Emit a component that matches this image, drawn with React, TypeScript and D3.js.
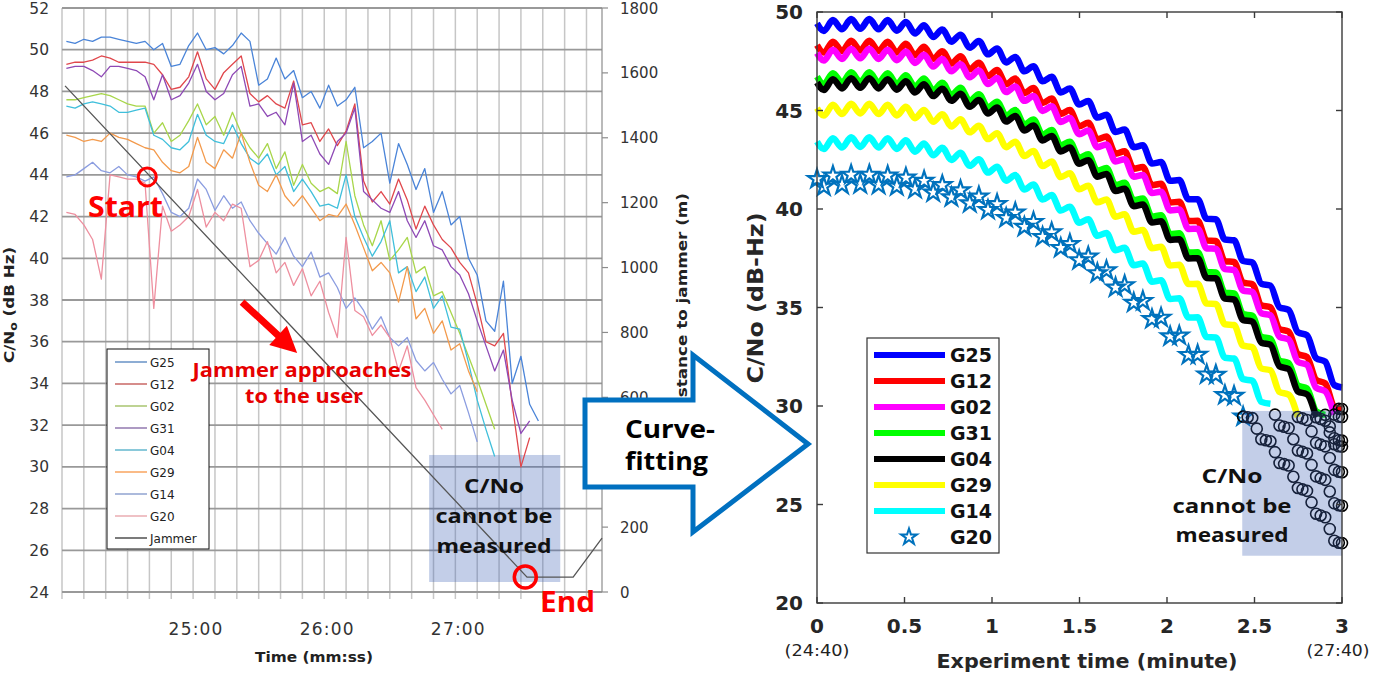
import React from "react";
import * as d3 from "d3";

// measured C/No (dB-Hz), one sample every 4 s starting at 24:00:02
const secs = [2, 6, 10, 14, 18, 22, 26, 30, 34, 38, 42, 46, 50, 54, 58, 62, 66, 70, 74, 78, 82, 86, 90, 94, 98, 102, 106, 110, 114, 118, 122, 126, 130, 134, 138, 142, 146, 150, 154, 158, 162, 166, 170, 174, 178, 182, 186, 190, 194, 198, 202, 206, 210, 214, 218];

const mG25 = [50.4, 50.3, 50.5, 50.4, 50.6, 50.6, 50.5, 50.4, 50.3, 50.4, 50.0, 50.3, 49.2, 49.3, 50.2, 50.8, 50.0, 50.1, 49.8, 50.2, 50.8, 50.4, 48.3, 48.6, 49.6, 48.6, 49.0, 47.7, 48.0, 47.2, 48.3, 47.3, 47.6, 48.2, 45.3, 45.6, 46.0, 43.6, 45.5, 44.5, 43.3, 44.3, 42.2, 43.2, 41.6, 42.0, 40.0, 39.2, 37.0, 36.5, 38.9, 34.0, 35.3, 33.0, 32.2];
const mG12 = [49.3, 49.4, 49.4, 49.5, 49.7, 49.6, 49.4, 49.4, 49.4, 49.4, 49.3, 48.8, 48.1, 48.2, 48.7, 49.9, 48.6, 48.1, 48.9, 49.3, 49.7, 47.9, 47.5, 47.8, 47.4, 47.2, 48.5, 46.4, 46.5, 45.6, 46.2, 45.4, 46.1, 47.4, 43.7, 42.7, 43.2, 42.6, 43.8, 42.8, 41.4, 42.5, 41.6, 40.9, 40.5, 39.8, 39.3, 37.8, 36.0, 35.8, 36.4, 33.0, 30.0, 31.4];
const mG02 = [47.6, 47.6, 47.7, 47.8, 47.9, 47.8, 47.6, 47.4, 47.3, 47.3, 46.0, 46.5, 45.6, 45.9, 46.6, 47.4, 46.4, 46.8, 45.9, 47.0, 46.0, 45.3, 44.8, 45.5, 44.3, 45.1, 43.5, 44.5, 43.6, 43.2, 43.4, 43.1, 45.6, 43.0, 41.6, 40.6, 41.8, 39.9, 40.4, 41.0, 39.3, 39.6, 38.2, 38.4, 37.4, 36.4, 35.3, 34.2, 33.0, 31.8];
const mG31 = [49.1, 49.2, 49.2, 49.0, 48.7, 49.2, 49.2, 49.1, 49.0, 48.7, 47.6, 48.8, 47.6, 47.8, 48.4, 49.3, 48.0, 47.6, 47.9, 48.8, 49.2, 47.3, 47.4, 46.8, 47.0, 46.4, 48.4, 45.6, 45.9, 45.0, 44.5, 45.6, 46.0, 47.2, 43.2, 42.8, 42.4, 42.2, 43.2, 41.8, 41.0, 41.8, 40.6, 40.4, 39.6, 39.2, 38.3, 37.0, 35.8, 34.6, 35.6, 33.2, 31.6, 32.2];
const mG04 = [47.3, 47.2, 47.4, 47.5, 47.4, 47.3, 47.0, 47.0, 47.1, 47.2, 45.9, 45.7, 45.3, 45.2, 45.6, 46.9, 45.9, 45.6, 45.5, 46.4, 45.5, 44.8, 44.5, 45.0, 44.0, 44.4, 43.2, 43.8, 43.2, 42.5, 42.6, 42.4, 44.0, 42.0, 41.0, 40.1, 40.8, 41.8, 39.3, 39.6, 38.4, 39.1, 37.6, 38.2, 36.7, 36.6, 35.0, 33.2, 31.8, 30.5];
const mG29 = [45.9, 45.8, 45.6, 45.7, 45.6, 46.0, 45.8, 45.7, 45.5, 45.3, 45.2, 44.6, 44.2, 44.1, 44.4, 45.8, 44.6, 44.3, 45.2, 44.8, 46.0, 44.6, 43.5, 43.2, 44.0, 43.0, 42.5, 43.0, 42.4, 41.8, 42.1, 42.0, 42.6, 41.6, 40.5, 39.4, 39.8, 39.3, 37.9, 39.6, 37.1, 37.6, 36.4, 37.0, 35.6, 35.9, 34.6, 33.6];
const mG14 = [43.9, 44.0, 44.3, 44.6, 44.2, 44.1, 44.4, 44.0, 43.9, 43.7, 43.9, 43.1, 42.2, 42.0, 42.4, 43.8, 43.3, 42.3, 43.0, 42.4, 42.7, 41.8, 41.2, 40.7, 40.2, 41.0, 40.1, 39.6, 40.3, 39.1, 39.3, 38.6, 37.6, 38.1, 37.5, 36.6, 37.2, 36.2, 35.8, 36.2, 35.1, 34.6, 35.0, 34.2, 33.5, 33.9, 32.6, 31.2];
const mG20 = [42.2, 42.1, 41.6, 40.9, 39.0, 44.0, 43.9, 43.8, 43.8, 43.6, 37.6, 42.5, 41.3, 41.6, 42.0, 43.3, 41.5, 42.2, 41.8, 42.6, 42.4, 39.6, 39.9, 40.8, 39.3, 39.8, 38.7, 39.5, 38.2, 38.9, 37.4, 36.2, 41.0, 37.5, 37.2, 36.3, 36.8, 36.2, 34.6, 35.8, 33.8, 33.2, 32.5, 31.8];

// jammer distance (m)
const jamSecs = [1.4, 212.8, 233.9, 247.1];
const jamDist = [1560, 46, 46, 166];

const leftNames = ["G25", "G12", "G02", "G31", "G04", "G29", "G14", "G20"];
const leftSeries = [mG25, mG12, mG02, mG31, mG04, mG29, mG14, mG20];
const leftColors = ["#4a84d8", "#e0474c", "#a8d64a", "#8e49b5", "#3fbfdb", "#f39a4c", "#8b9de0", "#ee8f9f"];
const legendColors = ["#4f81bd", "#c0504d", "#9bbb59", "#8064a2", "#4bacc6", "#f79646", "#7f95c9", "#e6a0a6"];
const timeTicks = [60, 120, 180];
const timeLabels = ["25:00", "26:00", "27:00"];
const distTicks = [0, 200, 600, 800, 1000, 1200, 1400, 1600, 1800]; // 400 sits under the arrow

// curve fitted C/No, read at the ripple peaks and troughs (minutes)
const fitTimes = [0, 0.039, 0.091, 0.143, 0.195, 0.247, 0.299, 0.352, 0.404, 0.456, 0.508, 0.56, 0.612, 0.664, 0.716, 0.768, 0.82, 0.873, 0.925, 0.977, 1.029, 1.081, 1.133, 1.185, 1.237, 1.289, 1.341, 1.393, 1.445, 1.498, 1.55, 1.602, 1.654, 1.706, 1.758, 1.81, 1.862, 1.914, 1.966, 2.018, 2.07, 2.123, 2.175, 2.227, 2.279, 2.331, 2.383, 2.435, 2.487, 2.539, 2.591, 2.643, 2.695, 2.748, 2.8, 2.852, 2.904, 2.956, 3.0];

const fG25 = [49.42, 49.04, 49.59, 49.12, 49.64, 49.15, 49.64, 49.12, 49.59, 49.05, 49.49, 48.91, 49.33, 48.73, 49.11, 48.49, 48.85, 48.19, 48.53, 47.85, 48.15, 47.44, 47.72, 46.99, 47.24, 46.48, 46.71, 45.92, 46.12, 45.3, 45.48, 44.64, 44.78, 43.91, 44.03, 43.14, 43.23, 42.31, 42.38, 41.43, 41.47, 40.49, 40.5, 39.5, 39.48, 38.45, 38.41, 37.36, 37.29, 36.21, 36.11, 35.01, 34.88, 33.74, 33.59, 32.43, 32.25, 31.06, 30.94];
const fG12 = [48.32, 47.94, 48.49, 48.02, 48.54, 48.05, 48.54, 48.02, 48.49, 47.95, 48.39, 47.81, 48.23, 47.63, 48.01, 47.39, 47.75, 47.09, 47.43, 46.75, 47.05, 46.34, 46.62, 45.89, 46.14, 45.38, 45.61, 44.82, 45.02, 44.2, 44.38, 43.54, 43.68, 42.81, 42.93, 42.04, 42.13, 41.21, 41.28, 40.33, 40.37, 39.39, 39.4, 38.4, 38.38, 37.35, 37.31, 36.26, 36.19, 35.11, 35.01, 33.91, 33.78, 32.64, 32.49, 31.33, 31.15, 29.96, 29.84];
const fG02 = [47.92, 47.54, 48.09, 47.62, 48.14, 47.65, 48.14, 47.62, 48.09, 47.55, 47.99, 47.41, 47.83, 47.23, 47.61, 46.99, 47.35, 46.69, 47.03, 46.35, 46.65, 45.94, 46.22, 45.49, 45.74, 44.98, 45.21, 44.42, 44.62, 43.8, 43.98, 43.14, 43.28, 42.41, 42.53, 41.64, 41.73, 40.81, 40.88, 39.93, 39.97, 38.99, 39.0, 38.0, 37.98, 36.95, 36.91, 35.86, 35.79, 34.71, 34.61, 33.51, 33.38, 32.24, 32.09, 30.93, 30.75, 29.56];
const fG31 = [46.72, 46.34, 46.89, 46.42, 46.94, 46.45, 46.94, 46.42, 46.89, 46.35, 46.79, 46.21, 46.63, 46.03, 46.41, 45.79, 46.15, 45.49, 45.83, 45.15, 45.45, 44.74, 45.02, 44.29, 44.54, 43.78, 44.01, 43.22, 43.42, 42.6, 42.78, 41.94, 42.08, 41.21, 41.33, 40.44, 40.53, 39.61, 39.68, 38.73, 38.77, 37.79, 37.8, 36.8, 36.78, 35.75, 35.71, 34.66, 34.59, 33.51, 33.41, 32.31, 32.18, 31.04, 30.89, 29.73, 29.55];
const fG04 = [46.42, 46.04, 46.59, 46.12, 46.64, 46.15, 46.64, 46.12, 46.59, 46.05, 46.49, 45.91, 46.33, 45.73, 46.11, 45.49, 45.85, 45.19, 45.53, 44.85, 45.15, 44.44, 44.72, 43.99, 44.24, 43.48, 43.71, 42.92, 43.12, 42.3, 42.48, 41.64, 41.78, 40.91, 41.03, 40.14, 40.23, 39.31, 39.38, 38.43, 38.47, 37.49, 37.5, 36.5, 36.48, 35.45, 35.41, 34.36, 34.29, 33.21, 33.11, 32.01, 31.88, 30.74, 30.59, 29.43];
const fG29 = [45.12, 44.74, 45.29, 44.82, 45.34, 44.85, 45.34, 44.82, 45.29, 44.75, 45.19, 44.61, 45.03, 44.43, 44.81, 44.19, 44.55, 43.89, 44.23, 43.55, 43.85, 43.14, 43.42, 42.69, 42.94, 42.18, 42.41, 41.62, 41.82, 41.0, 41.18, 40.34, 40.48, 39.61, 39.73, 38.84, 38.93, 38.01, 38.08, 37.13, 37.17, 36.19, 36.2, 35.2, 35.18, 34.15, 34.11, 33.06, 32.99, 31.91, 31.81, 30.71, 30.58, 29.44];
const fG14 = [43.42, 43.04, 43.59, 43.12, 43.64, 43.15, 43.64, 43.12, 43.59, 43.05, 43.49, 42.91, 43.33, 42.73, 43.11, 42.49, 42.85, 42.19, 42.53, 41.85, 42.15, 41.44, 41.72, 40.99, 41.24, 40.48, 40.71, 39.92, 40.12, 39.3, 39.48, 38.64, 38.78, 37.91, 38.03, 37.14, 37.23, 36.31, 36.38, 35.43, 35.47, 34.49, 34.5, 33.5, 33.48, 32.45, 32.41, 31.36, 31.29, 30.21, 30.11];
const fG20 = [41.52, 41.14, 41.69, 41.22, 41.74, 41.25, 41.74, 41.22, 41.69, 41.15, 41.59, 41.01, 41.43, 40.83, 41.21, 40.59, 40.95, 40.29, 40.63, 39.95, 40.25, 39.54, 39.82, 39.09, 39.34, 38.58, 38.81, 38.02, 38.22, 37.4, 37.58, 36.74, 36.88, 36.01, 36.13, 35.24, 35.33, 34.41, 34.48, 33.53, 33.57, 32.59, 32.6, 31.6, 31.58, 30.55, 30.51, 29.46];

// extrapolated values below the tracking threshold (circles)
const circTimes = [2.435, 2.461, 2.487, 2.513, 2.539, 2.565, 2.591, 2.617, 2.643, 2.669, 2.695, 2.722, 2.748, 2.774, 2.8, 2.826, 2.852, 2.878, 2.904, 2.93, 2.956, 2.982, 3.0];
const cG20 = [29.46, 29.43, 29.39, 28.85, 28.31, 28.26, 28.21, 27.66, 27.11, 27.05, 26.98, 26.41, 25.84, 25.77, 25.69, 25.11, 24.53, 24.44, 24.35, 23.76, 23.16, 23.06, 23.04];
const cG14 = [29.56, 29.01, 28.95, 28.88, 28.31, 27.74, 27.67, 27.59, 27.01, 26.43, 26.34, 26.25, 25.66, 25.06, 24.96, 24.94];
const cG29 = [29.44, 29.37, 29.29, 28.71, 28.13, 28.04, 27.95, 27.36, 26.76, 26.66, 26.64];
const cG04 = [29.43, 29.34, 29.25, 28.66, 28.06, 27.96, 27.94];
const cG31 = [29.55, 28.96, 28.36, 28.26, 28.24];
const cG02 = [29.56, 29.46, 29.44];
const cG12 = [29.86, 29.84];

const fitNames = ["G25", "G12", "G02", "G31", "G04", "G29", "G14"];
const fitSeries = [fG25, fG12, fG02, fG31, fG04, fG29, fG14];
const fitColors = ["#0000ff", "#ff0000", "#ff00ff", "#00ff00", "#000000", "#ffff00", "#00ffff"];
const circSeries = [cG20, cG14, cG29, cG04, cG31, cG02, cG12];
const starColor = "#0072bd";

const AX = "DejaVu Sans";
const NOTE = "Open Sans";

export default function App() {
  // left panel scales
  const lx = d3.scaleLinear().domain([0, 247.1]).range([62, 602]);
  const ly = d3.scaleLinear().domain([24, 52]).range([592, 8]);
  const ld = d3.scaleLinear().domain([0, 1800]).range([592, 8]);
  // right panel scales
  const rx = d3.scaleLinear().domain([0, 3]).range([817, 1342]);
  const ry = d3.scaleLinear().domain([20, 50]).range([603, 12]);

  const lineL = d3.line<[number, number]>().x(d => lx(d[0])).y(d => ly(d[1]));
  const lineJ = d3.line<[number, number]>().x(d => lx(d[0])).y(d => ld(d[1]));
  const lineR = d3
    .line<[number, number]>()
    .x(d => rx(d[0]))
    .y(d => ry(d[1]))
    .curve(d3.curveMonotoneX);
  const star = d3.symbol(d3.symbolStar).size(105)();
  const starLegend = d3.symbol(d3.symbolStar).size(80)();

  // red arrow (jammer approaching)
  const a0: [number, number] = [lx(82.4), ly(37.9)];
  const a1: [number, number] = [lx(107.6), ly(35.46)];
  const len = Math.hypot(a1[0] - a0[0], a1[1] - a0[1]);
  const ux = (a1[0] - a0[0]) / len, uy = (a1[1] - a0[1]) / len;
  const nx = -uy, ny = ux;
  const bx = a1[0] - 26 * ux, by = a1[1] - 26 * uy;
  const redArrow = [
    [a0[0] + 3.5 * nx, a0[1] + 3.5 * ny],
    [bx + 3.5 * nx, by + 3.5 * ny],
    [bx + 13 * nx, by + 13 * ny],
    a1,
    [bx - 13 * nx, by - 13 * ny],
    [bx - 3.5 * nx, by - 3.5 * ny],
    [a0[0] - 3.5 * nx, a0[1] - 3.5 * ny],
  ].map(p => p.join(",")).join(" ");

  const bigArrow = "585,400 693,400 693,355 808,444 693,532 693,487 585,487";

  return (
    <div style={{ position: "absolute", left: 0, top: 0 }}>
      <svg width={1388} height={677} style={{ display: "block", background: "#fff" }}>
        {/* ---------- left panel ---------- */}
        {d3.range(0, 241, 10).map(t => (
          <line key={"vg" + t} x1={lx(t)} x2={lx(t)} y1={8} y2={599} stroke="#c6c6c6" strokeWidth={1.5} />
        ))}
        {d3.range(24, 53, 2).map(v => (
          <line key={"hg" + v} x1={62} x2={602} y1={ly(v)} y2={ly(v)} stroke="#999" strokeWidth={1.8} />
        ))}
        <line x1={602} x2={602} y1={8} y2={592} stroke="#8c8c8c" strokeWidth={1.2} />
        {d3.range(0, 1801, 200).map(v => (
          <line key={"rt" + v} x1={602} x2={608} y1={ld(v)} y2={ld(v)} stroke="#8c8c8c" strokeWidth={1.2} />
        ))}
        <g fontFamily={AX} fontSize={15.5} fill="#333">
          {d3.range(24, 53, 2).map(v => (
            <text key={"yl" + v} x={49} y={ly(v) + 5.5} textAnchor="end">{v}</text>
          ))}
        </g>
        <g fontFamily={AX} fontSize={15} fill="#333">
          {distTicks.map(v => (
            <text key={"dl" + v} x={620} y={ld(v) + 5.5}>{v}</text>
          ))}
        </g>
        <g fontFamily={AX} fontSize={17} fill="#333" letterSpacing={1.2}>
          {timeTicks.map((t, i) => (
            <text key={"tl" + t} x={lx(t) + 3} y={635} textAnchor="middle">{timeLabels[i]}</text>
          ))}
        </g>
        <text x={314} y={662} textAnchor="middle" fontFamily={AX} fontWeight="bold" fontSize={14} fill="#222" textLength={118} lengthAdjust="spacingAndGlyphs">
          Time (mm:ss)
        </text>
        <text transform="translate(14,305) rotate(-90)" textAnchor="middle" fontFamily={AX} fontWeight="bold" fontSize={13.5} fill="#222" textLength={116} lengthAdjust="spacingAndGlyphs">
          C/N<tspan fontSize={10} dy={3}>o</tspan><tspan dy={-3}> (dB Hz)</tspan>
        </text>
        <text transform="translate(687,305) rotate(-90)" textAnchor="middle" fontFamily={AX} fontWeight="bold" fontSize={14} fill="#222" textLength={224} lengthAdjust="spacingAndGlyphs">
          Distance to jammer (m)
        </text>

        {/* region where C/No cannot be measured */}
        <rect x={lx(168)} y={ly(30.57)} width={lx(228) - lx(168)} height={ly(24.48) - ly(30.57)} fill="rgb(68,103,184)" fillOpacity={0.32} />

        {leftSeries.map((v, k) => (
          <path
            key={leftNames[k]}
            d={lineL(secs.slice(0, v.length).map((t, i) => [t, v[i]] as [number, number])) || ""}
            fill="none"
            stroke={leftColors[k]}
            strokeWidth={1.3}
            strokeLinejoin="round"
          />
        ))}
        <path
          d={lineJ(jamSecs.map((t, i) => [t, jamDist[i]] as [number, number])) || ""}
          fill="none"
          stroke="#555"
          strokeWidth={1.3}
        />

        {/* legend */}
        <rect x={107} y={349} width={102} height={200} fill="#fff" stroke="#111" strokeWidth={1} />
        {leftNames.concat(["Jammer"]).map((n, i) => (
          <g key={"lg" + n}>
            <line x1={115} x2={147} y1={362 + 22 * i} y2={362 + 22 * i} stroke={i < 8 ? legendColors[i] : "#333"} strokeWidth={1.3} />
            <text x={150} y={366.5 + 22 * i} fontFamily={AX} fontSize={12} fill="#222">{n}</text>
          </g>
        ))}

        {/* annotations */}
        <circle cx={lx(39)} cy={ly(43.9)} r={9} fill="none" stroke="#f00" strokeWidth={3} />
        <text x={88} y={217} fontFamily={NOTE} fontWeight="bold" fontSize={29} fill="#f00" textLength={75} lengthAdjust="spacingAndGlyphs">Start</text>
        <polygon points={redArrow} fill="#f00" />
        <g fontFamily={NOTE} fontWeight="bold" fontSize={19} fill="#e60000" textAnchor="middle">
          <text x={302} y={377} textLength={219} lengthAdjust="spacingAndGlyphs">Jammer approaches</text>
          <text x={304} y={403} textLength={118} lengthAdjust="spacingAndGlyphs">to the user</text>
        </g>
        <g fontFamily={NOTE} fontWeight="bold" fontSize={20} fill="#111" textAnchor="middle">
          <text x={494} y={493} textLength={60} lengthAdjust="spacingAndGlyphs">C/No</text>
          <text x={494} y={523} textLength={117} lengthAdjust="spacingAndGlyphs">cannot be</text>
          <text x={494} y={553} textLength={115} lengthAdjust="spacingAndGlyphs">measured</text>
        </g>
        <circle cx={lx(212)} cy={ld(46)} r={11} fill="none" stroke="#f00" strokeWidth={3.5} />
        <text x={540} y={612} fontFamily={NOTE} fontWeight="bold" fontSize={28} fill="#f00" textLength={55} lengthAdjust="spacingAndGlyphs">End</text>

        {/* curve-fitting arrow */}
        <polygon points={bigArrow} fill="#fff" stroke="#0070c0" strokeWidth={5} strokeLinejoin="miter" />
        <g fontFamily={NOTE} fontWeight="bold" fontSize={25} fill="#000">
          <text x={625} y={438} textLength={90} lengthAdjust="spacingAndGlyphs">Curve-</text>
          <text x={625} y={470} textLength={83} lengthAdjust="spacingAndGlyphs">fitting</text>
        </g>

        {/* ---------- right panel ---------- */}
        {fitSeries.map((v, k) => (
          <path
            key={"f" + fitNames[k]}
            d={lineR(fitTimes.slice(0, v.length).map((t, i) => [t, v[i]] as [number, number])) || ""}
            fill="none"
            stroke={fitColors[k]}
            strokeWidth={6.5}
            strokeLinejoin="round"
          />
        ))}
        {fG20.map((v, i) => (
          <path key={"s" + i} d={star || ""} transform={`translate(${rx(fitTimes[i])},${ry(v)})`} fill="none" stroke={starColor} strokeWidth={2.2} />
        ))}
        {circSeries.map((v, k) => {
          const ts = circTimes.slice(circTimes.length - v.length);
          return v.map((c, i) => (
            <circle key={"c" + k + "_" + i} cx={rx(ts[i])} cy={ry(c)} r={5.5} fill="none" stroke="#000" strokeWidth={1.6} />
          ));
        })}
        <rect x={rx(2.43)} y={ry(29.75)} width={rx(3) - rx(2.43)} height={ry(22.4) - ry(29.75)} fill="rgb(68,103,184)" fillOpacity={0.32} />
        <g fontFamily={NOTE} fontWeight="bold" fontSize={20} fill="#111" textAnchor="middle">
          <text x={1232} y={483} textLength={61} lengthAdjust="spacingAndGlyphs">C/No</text>
          <text x={1232} y={513} textLength={119} lengthAdjust="spacingAndGlyphs">cannot be</text>
          <text x={1232} y={542} textLength={113} lengthAdjust="spacingAndGlyphs">measured</text>
        </g>

        {/* frame and ticks */}
        <rect x={817} y={12} width={525} height={591} fill="none" stroke="#3a3a3a" strokeWidth={1.4} />
        {d3.range(0, 3.01, 0.5).map(t => (
          <g key={"xt" + t}>
            <line x1={rx(t)} x2={rx(t)} y1={603} y2={597} stroke="#3a3a3a" strokeWidth={1.4} />
            <line x1={rx(t)} x2={rx(t)} y1={12} y2={18} stroke="#3a3a3a" strokeWidth={1.4} />
          </g>
        ))}
        {d3.range(20, 51, 5).map(v => (
          <g key={"yt" + v}>
            <line x1={817} x2={823} y1={ry(v)} y2={ry(v)} stroke="#3a3a3a" strokeWidth={1.4} />
            <line x1={1342} x2={1336} y1={ry(v)} y2={ry(v)} stroke="#3a3a3a" strokeWidth={1.4} />
          </g>
        ))}
        <g fontFamily={AX} fontWeight="bold" fontSize={20} fill="#262626">
          {d3.range(20, 51, 5).map(v => (
            <text key={"ryl" + v} x={803} y={ry(v) + 7} textAnchor="end">{v}</text>
          ))}
          {d3.range(0, 3.01, 0.5).map(t => (
            <text key={"rxl" + t} x={rx(t)} y={633} textAnchor="middle">{t}</text>
          ))}
        </g>
        <g fontFamily={AX} fontSize={16} fill="#222" textAnchor="middle">
          <text x={817} y={656} textLength={65} lengthAdjust="spacingAndGlyphs">(24:40)</text>
          <text x={1338} y={656} textLength={63} lengthAdjust="spacingAndGlyphs">(27:40)</text>
        </g>
        <text x={1087} y={668} textAnchor="middle" fontFamily={AX} fontWeight="bold" fontSize={19} fill="#262626" textLength={301} lengthAdjust="spacingAndGlyphs">
          Experiment time (minute)
        </text>
        <text transform="translate(763,298) rotate(-90)" textAnchor="middle" fontFamily={AX} fontWeight="bold" fontSize={21} fill="#262626" textLength={171} lengthAdjust="spacingAndGlyphs">
          C/No (dB-Hz)
        </text>

        {/* legend */}
        <rect x={867} y={338} width={132} height={215} fill="#fff" stroke="#333" strokeWidth={1.2} />
        {fitNames.map((n, i) => (
          <g key={"rl" + n}>
            <line x1={874} x2={945} y1={355 + 26 * i} y2={355 + 26 * i} stroke={fitColors[i]} strokeWidth={6} />
            <text x={950} y={362 + 26 * i} fontFamily={AX} fontWeight="bold" fontSize={19} fill="#111">{n}</text>
          </g>
        ))}
        <path d={starLegend || ""} transform="translate(909,537)" fill="none" stroke={starColor} strokeWidth={2} />
        <text x={950} y={544} fontFamily={AX} fontWeight="bold" fontSize={19} fill="#111">G20</text>
      </svg>
    </div>
  );
}
